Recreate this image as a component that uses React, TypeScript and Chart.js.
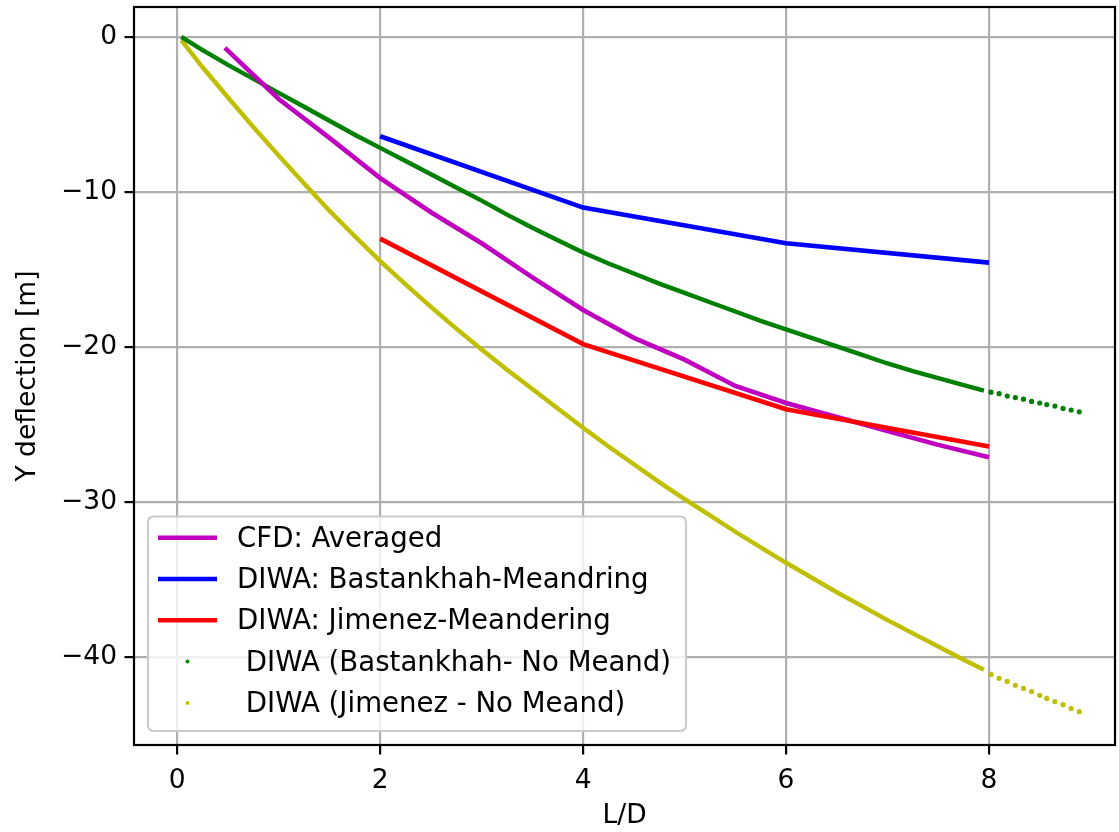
import React, { useEffect, useRef } from "react";
import { Chart, registerables } from "chart.js";

Chart.register(...registerables);

// Axis ticks
const xTicks = [0, 2, 4, 6, 8];
const yTicks = [-40, -30, -20, -10, 0];

// Series labels
const cfdLabel = "CFD: Averaged";
const bastMeanderLabel = "DIWA: Bastankhah-Meandring";
const jimMeanderLabel = "DIWA: Jimenez-Meandering";
const bastNoMeandLabel = " DIWA (Bastankhah- No Meand)";
const jimNoMeandLabel = " DIWA (Jimenez - No Meand)";

// CFD averaged wake centre
const cfdX = [0.47, 1.0, 1.5, 2.0, 2.5, 3.0, 3.5, 4.0, 4.5, 5.0, 5.5, 6.0, 6.5, 7.0, 7.5, 8.0];
const cfdY = [-0.7, -4.0, -6.5, -9.1, -11.3, -13.3, -15.5, -17.6, -19.4, -20.8, -22.5, -23.6, -24.5, -25.4, -26.3, -27.1];

// DIWA with meandering
const bastMeanderX = [2, 4, 6, 8];
const bastMeanderY = [-6.4, -11.0, -13.3, -14.55];
const jimMeanderX = [2, 4, 6, 8];
const jimMeanderY = [-13.0, -19.8, -24.0, -26.4];

// DIWA without meandering: densely sampled trace up to L/D = 8 ...
const noMeandX = [0.04, 0.25, 0.5, 0.75, 1.0, 1.25, 1.5, 1.75, 2.0, 2.25, 2.5, 2.75, 3.0, 3.25, 3.5, 3.75, 4.0, 4.25, 4.5, 4.75, 5.0, 5.25, 5.5, 5.75, 6.0, 6.25, 6.5, 6.75, 7.0, 7.25, 7.5, 7.75, 7.95];
const bastNoMeandY = [0, -0.85, -1.8, -2.7, -3.6, -4.5, -5.4, -6.3, -7.15, -8.0, -8.85, -9.7, -10.55, -11.45, -12.3, -13.1, -13.9, -14.6, -15.25, -15.9, -16.5, -17.1, -17.7, -18.3, -18.85, -19.4, -19.95, -20.5, -21.05, -21.55, -22.0, -22.45, -22.8];
const jimNoMeandY = [-0.2, -1.95, -3.9, -5.8, -7.65, -9.45, -11.2, -12.85, -14.45, -15.95, -17.4, -18.8, -20.15, -21.45, -22.7, -23.95, -25.2, -26.4, -27.55, -28.7, -29.8, -30.85, -31.9, -32.9, -33.9, -34.85, -35.8, -36.7, -37.6, -38.45, -39.3, -40.15, -40.8];

// ... and the coarser samples beyond it
const tailX = [8.02, 8.10, 8.18, 8.26, 8.34, 8.42, 8.50, 8.57, 8.65, 8.73, 8.81, 8.89];
const bastTailY = [-22.9, -23.0, -23.15, -23.25, -23.35, -23.5, -23.6, -23.7, -23.8, -23.95, -24.05, -24.17];
const jimTailY = [-41.1, -41.35, -41.55, -41.8, -42.0, -42.2, -42.45, -42.65, -42.85, -43.05, -43.3, -43.5];

const MAGENTA = "#bf00bf";
const BLUE = "#0000ff";
const RED = "#ff0000";
const GREEN = "#008000";
const OLIVE = "#bfbf00";

const FONT = "DejaVu Sans";
const AXIS_FONT_SIZE = 26.5;
const LEGEND_FONT_SIZE = 27.6;

const pts = (xs: number[], ys: number[]) => xs.map((x, i) => ({ x, y: ys[i] }));
const fmt = (v: number) => (v < 0 ? "\u2212" + Math.abs(v) : String(v));

const legendItems = [
  { label: cfdLabel, color: MAGENTA, kind: "line" },
  { label: bastMeanderLabel, color: BLUE, kind: "line" },
  { label: jimMeanderLabel, color: RED, kind: "line" },
  { label: bastNoMeandLabel, color: GREEN, kind: "dot" },
  { label: jimNoMeandLabel, color: OLIVE, kind: "dot" },
];

// Full rectangular frame around the plot area
const framePlugin = {
  id: "frame",
  afterDatasetsDraw(chart: any) {
    const { ctx, chartArea: a } = chart;
    ctx.save();
    ctx.strokeStyle = "#000";
    ctx.lineWidth = 2.2;
    ctx.strokeRect(a.left, a.top, a.right - a.left, a.bottom - a.top);
    ctx.restore();
  },
};

// Legend box in the lower-left corner of the plot area
const boxLegendPlugin = {
  id: "boxLegend",
  afterDraw(chart: any) {
    const { ctx, chartArea: a } = chart;
    const left = a.left + 14;
    const bottom = a.bottom - 14;
    const w = 538;
    const h = 214.5;
    const top = bottom - h;
    ctx.save();
    ctx.beginPath();
    ctx.roundRect(left, top, w, h, 5.5);
    ctx.fillStyle = "rgba(255,255,255,0.8)";
    ctx.fill();
    ctx.strokeStyle = "#cccccc";
    ctx.lineWidth = 2.2;
    ctx.stroke();

    ctx.font = `${LEGEND_FONT_SIZE}px "${FONT}"`;
    ctx.textAlign = "left";
    ctx.textBaseline = "alphabetic";
    legendItems.forEach((item, i) => {
      const rowY = top + 21.2 + i * 41.3;
      const hx0 = left + 10;
      const hx1 = left + 69;
      if (item.kind === "line") {
        ctx.strokeStyle = item.color;
        ctx.lineWidth = 4.5;
        ctx.lineCap = "butt";
        ctx.beginPath();
        ctx.moveTo(hx0, rowY);
        ctx.lineTo(hx1, rowY);
        ctx.stroke();
      } else {
        ctx.fillStyle = item.color;
        ctx.beginPath();
        ctx.arc((hx0 + hx1) / 2, rowY, 2, 0, Math.PI * 2);
        ctx.fill();
      }
      ctx.fillStyle = "#000";
      ctx.fillText(item.label, left + 89, rowY + 9);
    });
    ctx.restore();
  },
};

// Keep the plot area exactly where the axes are sized, without label overhang padding
const noOverhang = (s: any) => {
  s.paddingTop = 0;
  s.paddingBottom = 0;
  s.paddingLeft = 0;
  s.paddingRight = 0;
};

export default function App() {
  const ref = useRef<HTMLCanvasElement>(null);

  useEffect(() => {
    const axisFont = { family: FONT, size: AXIS_FONT_SIZE };
    const grid = {
      color: "#b0b0b0",
      lineWidth: 2.2,
      tickColor: "#000",
      tickLength: 9.5,
      tickWidth: 2.2,
    };
    const chart = new Chart(ref.current as HTMLCanvasElement, {
      type: "scatter",
      data: {
        datasets: [
          {
            label: jimNoMeandLabel,
            data: pts(noMeandX, jimNoMeandY),
            showLine: true,
            borderColor: OLIVE,
            borderWidth: 4.4,
            pointRadius: 0,
            order: 6,
          },
          {
            label: jimNoMeandLabel + " tail",
            data: pts(tailX, jimTailY),
            showLine: false,
            backgroundColor: OLIVE,
            pointRadius: 2.6,
            pointBorderWidth: 0,
            order: 6,
          },
          {
            label: bastNoMeandLabel,
            data: pts(noMeandX, bastNoMeandY),
            showLine: true,
            borderColor: GREEN,
            borderWidth: 4.4,
            pointRadius: 0,
            order: 5,
          },
          {
            label: bastNoMeandLabel + " tail",
            data: pts(tailX, bastTailY),
            showLine: false,
            backgroundColor: GREEN,
            pointRadius: 2.6,
            pointBorderWidth: 0,
            order: 5,
          },
          {
            label: cfdLabel,
            data: pts(cfdX, cfdY),
            showLine: true,
            borderColor: MAGENTA,
            borderWidth: 4.6,
            pointRadius: 0,
            order: 3,
          },
          {
            label: bastMeanderLabel,
            data: pts(bastMeanderX, bastMeanderY),
            showLine: true,
            borderColor: BLUE,
            borderWidth: 4.6,
            pointRadius: 0,
            order: 2,
          },
          {
            label: jimMeanderLabel,
            data: pts(jimMeanderX, jimMeanderY),
            showLine: true,
            borderColor: RED,
            borderWidth: 4.6,
            pointRadius: 0,
            order: 1,
          },
        ],
      },
      options: {
        animation: false,
        responsive: false,
        layout: { padding: { top: 7, right: 2, left: 0, bottom: 0 } },
        plugins: {
          legend: { display: false },
          tooltip: { enabled: false },
        },
        scales: {
          x: {
            type: "linear",
            min: -0.426,
            max: 9.242,
            afterBuildTicks: (s: any) => {
              s.ticks = xTicks.map((v) => ({ value: v }));
            },
            afterFit: (s: any) => {
              s.height = 87;
              noOverhang(s);
            },
            grid,
            border: { display: false },
            ticks: {
              color: "#000",
              font: axisFont,
              padding: 10.5,
              maxRotation: 0,
              autoSkip: false,
              callback: (v: any) => fmt(Number(v)),
            },
            title: {
              display: true,
              text: "L/D",
              color: "#000",
              font: axisFont,
              padding: { top: 0, bottom: 0 },
            },
          },
          y: {
            type: "linear",
            min: -45.65,
            max: 1.934,
            afterBuildTicks: (s: any) => {
              s.ticks = yTicks.map((v) => ({ value: v }));
            },
            afterFit: (s: any) => {
              s.width = 134;
              noOverhang(s);
            },
            grid,
            border: { display: false },
            ticks: {
              color: "#000",
              font: axisFont,
              padding: 7.5,
              autoSkip: false,
              callback: (v: any) => fmt(Number(v)),
            },
            title: {
              display: true,
              text: "Y deflection [m]",
              color: "#000",
              font: axisFont,
              padding: { top: 12, bottom: 0 },
            },
          },
        },
      },
      plugins: [framePlugin, boxLegendPlugin],
    } as any);
    return () => chart.destroy();
  }, []);

  return (
    <div
      style={{
        position: "fixed",
        left: 0,
        top: 0,
        width: 1119,
        height: 832,
        background: "#fff",
      }}
    >
      <canvas ref={ref} width={1119} height={832} style={{ display: "block" }} />
    </div>
  );
}
